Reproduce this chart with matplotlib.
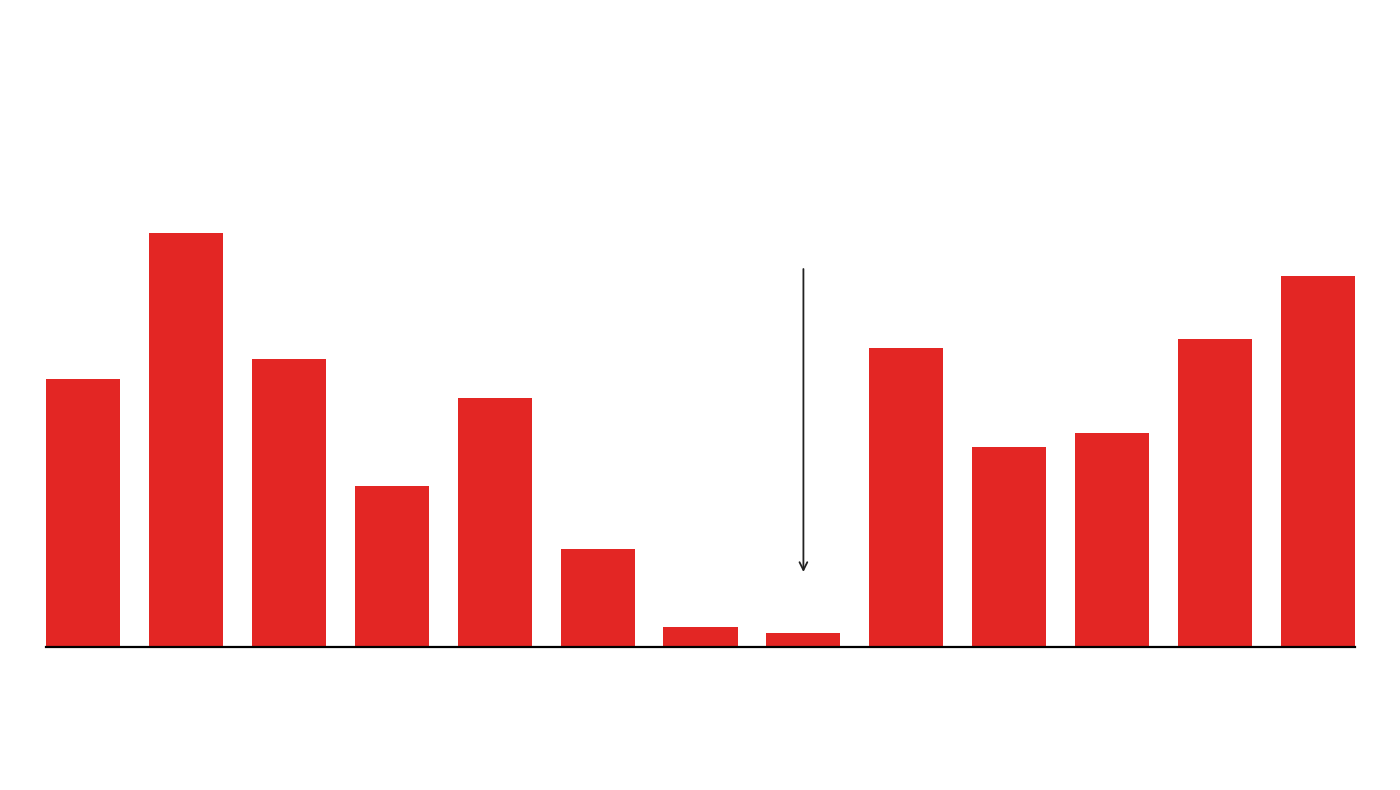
import matplotlib
matplotlib.use("Agg")
import matplotlib.pyplot as plt

categories = list(range(13))
values = [268, 414, 288, 161, 249, 98, 20, 14, 299, 200, 214, 308, 371]
arrow_x = 7
arrow_start = 378
arrow_end = 75

fig = plt.figure(figsize=(14, 7.9), dpi=100)
ax = fig.add_axes([46/1400, 1 - 647/790, (1355 - 46)/1400, 414/790])
ax.bar(categories, values, width=0.72, color="#E32624", linewidth=0)
ax.set_xlim(-0.36, 12.36)
ax.set_ylim(0, 414)
ax.axhline(0, color="black", lw=1.6, clip_on=False)
ax.annotate("", xy=(arrow_x, arrow_end), xytext=(arrow_x, arrow_start),
            arrowprops=dict(arrowstyle="->", color="#222222", lw=1.3,
                            mutation_scale=14, shrinkA=0, shrinkB=0),
            annotation_clip=False)
for s in ax.spines.values():
    s.set_visible(False)
ax.set_xticks([])
ax.set_yticks([])
fig.savefig("out.png", dpi=100, facecolor="white")
